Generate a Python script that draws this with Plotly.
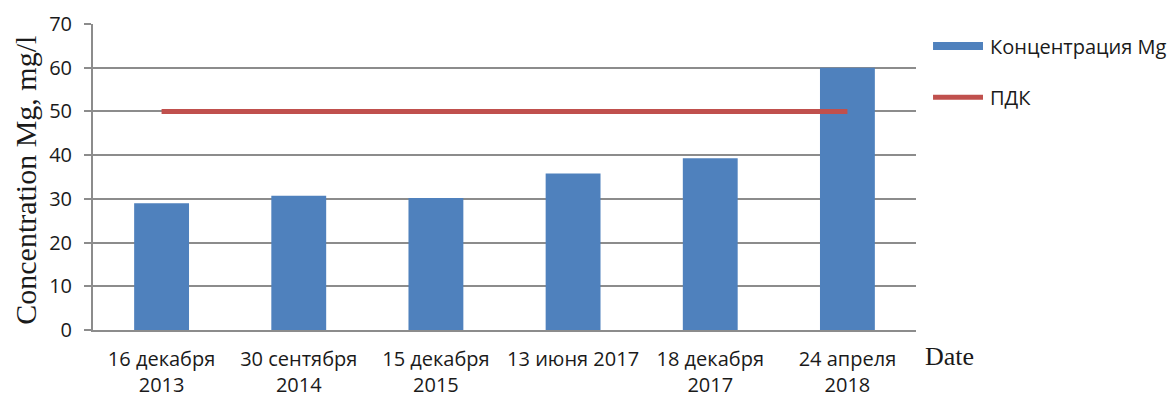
import plotly.graph_objects as go

categories = ["16 декабря<br>2013", "30 сентября<br>2014", "15 декабря<br>2015",
              "13 июня 2017", "18 декабря<br>2017", "24 апреля<br>2018"]
mg_values = [29.0, 30.7, 30.2, 35.8, 39.3, 60.0]
pdk_values = [50, 50, 50, 50, 50, 50]
series_names = ["Концентрация Mg", "ПДК"]

BLUE = "#4F81BD"
RED = "#C0504D"
GRID = "#8C8C8C"
TXT = "#1a1a1a"
SANS = "Open Sans"
SERIF = "Liberation Serif"

fig = go.Figure()
fig.add_trace(go.Bar(x=categories, y=mg_values, name=series_names[0],
                     marker=dict(color=BLUE, line=dict(width=0))))
fig.add_trace(go.Scatter(x=categories, y=pdk_values, name=series_names[1], mode="lines",
                         line=dict(color=RED, width=5)))

fig.update_layout(
    width=1169, height=397,
    margin=dict(l=93, r=253, t=24, b=67, autoexpand=False),
    paper_bgcolor="white", plot_bgcolor="white",
    bargap=0.6,
    font=dict(family=SANS, size=20, color=TXT),
    showlegend=False,
)
fig.update_xaxes(showline=True, linecolor=GRID, linewidth=2, showgrid=False,
                 ticks="", ticklabelstandoff=10, automargin=False,
                 tickfont=dict(family=SANS, size=20, color=TXT))
fig.update_yaxes(range=[0, 70], dtick=10, showgrid=True, gridcolor=GRID, gridwidth=2,
                 showline=True, linecolor=GRID, linewidth=2,
                 ticks="outside", ticklen=7, tickcolor=GRID, tickwidth=2,
                 zeroline=False, ticklabelstandoff=8, automargin=False,
                 tickfont=dict(family=SANS, size=20, color=TXT))

# legend (drawn manually to get the wide swatches)
fig.add_shape(type="rect", xref="paper", yref="paper",
              x0=1.0207, x1=1.0814, y0=0.915, y1=0.941,
              fillcolor=BLUE, line=dict(width=0))
fig.add_annotation(text=series_names[0], xref="paper", yref="paper",
                   x=1.0875, y=0.928, xanchor="left", yanchor="middle",
                   showarrow=False, font=dict(family=SANS, size=20, color=TXT))
fig.add_shape(type="line", xref="paper", yref="paper",
              x0=1.0207, x1=1.0814, y0=0.761, y1=0.761,
              line=dict(color=RED, width=5))
fig.add_annotation(text=series_names[1], xref="paper", yref="paper",
                   x=1.0875, y=0.761, xanchor="left", yanchor="middle",
                   showarrow=False, font=dict(family=SANS, size=20, color=TXT))

fig.add_annotation(text="Concentration Mg, mg/l", xref="paper", yref="paper",
                   x=-0.083, y=0.49, xanchor="center", yanchor="middle",
                   textangle=-90, showarrow=False,
                   font=dict(family=SERIF, size=30, color=TXT))
fig.add_annotation(text="Date", xref="paper", yref="paper",
                   x=1.008, y=-0.088, xanchor="left", yanchor="middle",
                   showarrow=False,
                   font=dict(family=SERIF, size=26, color=TXT))

fig.write_html("out.html")
